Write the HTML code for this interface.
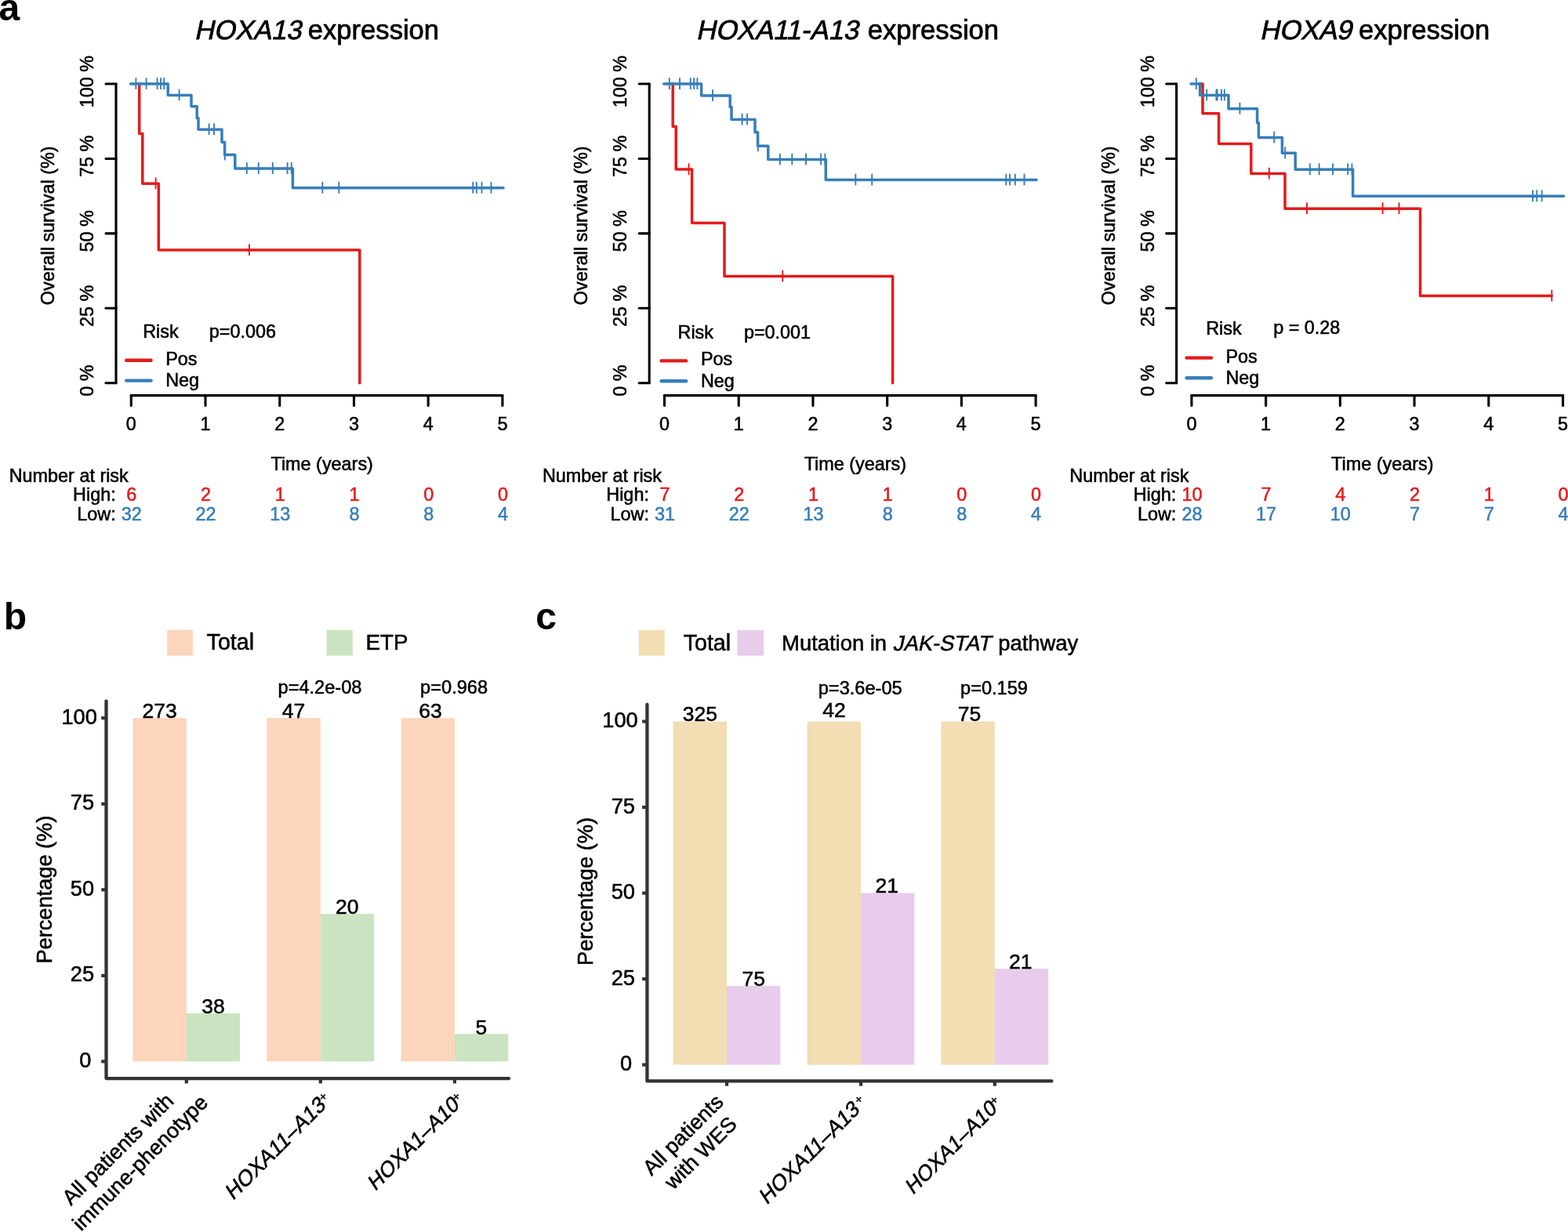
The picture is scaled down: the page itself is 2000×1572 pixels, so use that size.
<!DOCTYPE html>
<html><head><meta charset="utf-8"><title>Figure</title>
<style>
html,body{margin:0;padding:0;background:#fff;}
body{width:2000px;height:1572px;overflow:hidden;}
svg{display:block;}
text{font-family:'Liberation Sans', Arial, Helvetica, sans-serif;stroke:#000;stroke-width:0.55px;}
.ttl{stroke-width:0.75px;}
.bld{stroke-width:0px;}
</style></head>
<body>
<svg width="2000" height="1572" viewBox="0 0 2000 1572">
<rect width="2000" height="1572" fill="#fff"/>
<text class="ttl" transform="translate(247.8 49.6) skewX(-12)" font-size="34.6">HOXA13</text>
<text class="ttl" x="392.85" y="49.6" font-size="34.6">expression</text>
<g stroke="#000" stroke-width="3.1" stroke-linecap="round" fill="none">
<path d="M148 107 V488.7"/>
<path d="M135 488.7 H148"/>
<path d="M135 393.27 H148"/>
<path d="M135 297.85 H148"/>
<path d="M135 202.43 H148"/>
<path d="M135 107 H148"/>
<path d="M167.3 504.6 H640.9"/>
<path d="M167.3 504.6 V517.6"/>
<path d="M262.02 504.6 V517.6"/>
<path d="M356.74 504.6 V517.6"/>
<path d="M451.46 504.6 V517.6"/>
<path d="M546.18 504.6 V517.6"/>
<path d="M640.9 504.6 V517.6"/>
</g>
<text x="167.3" y="549.2" font-size="23.4" text-anchor="middle">0</text>
<text x="262.02" y="549.2" font-size="23.4" text-anchor="middle">1</text>
<text x="356.74" y="549.2" font-size="23.4" text-anchor="middle">2</text>
<text x="451.46" y="549.2" font-size="23.4" text-anchor="middle">3</text>
<text x="546.18" y="549.2" font-size="23.4" text-anchor="middle">4</text>
<text x="640.9" y="549.2" font-size="23.4" text-anchor="middle">5</text>
<text transform="translate(119.2 485.7) rotate(-90)" font-size="23.4" text-anchor="middle">0 %</text>
<text transform="translate(119.2 390.27) rotate(-90)" font-size="23.4" text-anchor="middle">25 %</text>
<text transform="translate(119.2 294.85) rotate(-90)" font-size="23.4" text-anchor="middle">50 %</text>
<text transform="translate(119.2 199.43) rotate(-90)" font-size="23.4" text-anchor="middle">75 %</text>
<text transform="translate(119.2 104) rotate(-90)" font-size="23.4" text-anchor="middle">100 %</text>
<text transform="translate(69.2 287.8) rotate(-90)" font-size="23.4" text-anchor="middle">Overall survival (%)</text>
<g fill="none" stroke-width="3.5" stroke-linejoin="round" stroke-linecap="round">
<path stroke="#E41A1C" d="M176.5 107H177.7V170.4H181.8V234.3H202.3V319.1H458.8V488.7"/>
<path stroke="#E41A1C" stroke-width="1.9" stroke-linecap="butt" d="M198.6 234.3v-7v14M318 319.1v-7v14"/>
<path stroke="#377EB8" d="M166.6 107H214.2V121.4H244V135.8H251.2V150.8H253V165.2H283V181.4H286.6V197.6H299.8V215H373.4V239.7H642"/>
<path stroke="#377EB8" stroke-width="1.9" stroke-linecap="butt" d="M173.4 107v-7v14M186.6 107v-7v14M200.6 107v-7v14M205 107v-7v14M209.2 107v-7v14M228.6 121.4v-7v14M266.6 165.2v-7v14M273 165.2v-7v14M286.8 197.6v-7v14M314.8 215v-7v14M329.8 215v-7v14M347.8 215v-7v14M366.6 215v-7v14M371.8 215v-7v14M411.3 239.7v-7v14M432.3 239.7v-7v14M603.3 239.7v-7v14M607.8 239.7v-7v14M614.5 239.7v-7v14M626.5 239.7v-7v14"/>
</g>
<text x="182.2" y="431" font-size="23.4">Risk</text>
<text x="266.8" y="431" font-size="23.4">p=0.006</text>
<g stroke-width="4.4" stroke-linecap="round">
<path stroke="#E41A1C" d="M161.2 459.8 H192.6"/>
<path stroke="#377EB8" d="M161.2 485.6 H192.6"/>
</g>
<text x="211.2" y="465.6" font-size="23.4">Pos</text>
<text x="211.2" y="493.1" font-size="23.4">Neg</text>
<text x="345.5" y="599.7" font-size="23.4">Time (years)</text>
<text x="11.7" y="614.5" font-size="23.4">Number at risk</text>
<text x="147.7" y="639.2" font-size="23.4" text-anchor="end">High:</text>
<text x="147.7" y="664" font-size="23.4" text-anchor="end">Low:</text>
<text x="167.8" y="639.2" font-size="23.4" text-anchor="middle" style="fill:#E41A1C;stroke:#E41A1C">6</text>
<text x="262.52" y="639.2" font-size="23.4" text-anchor="middle" style="fill:#E41A1C;stroke:#E41A1C">2</text>
<text x="357.24" y="639.2" font-size="23.4" text-anchor="middle" style="fill:#E41A1C;stroke:#E41A1C">1</text>
<text x="451.96" y="639.2" font-size="23.4" text-anchor="middle" style="fill:#E41A1C;stroke:#E41A1C">1</text>
<text x="546.68" y="639.2" font-size="23.4" text-anchor="middle" style="fill:#E41A1C;stroke:#E41A1C">0</text>
<text x="641.4" y="639.2" font-size="23.4" text-anchor="middle" style="fill:#E41A1C;stroke:#E41A1C">0</text>
<text x="167.8" y="664" font-size="23.4" text-anchor="middle" style="fill:#377EB8;stroke:#377EB8">32</text>
<text x="262.52" y="664" font-size="23.4" text-anchor="middle" style="fill:#377EB8;stroke:#377EB8">22</text>
<text x="357.24" y="664" font-size="23.4" text-anchor="middle" style="fill:#377EB8;stroke:#377EB8">13</text>
<text x="451.96" y="664" font-size="23.4" text-anchor="middle" style="fill:#377EB8;stroke:#377EB8">8</text>
<text x="546.68" y="664" font-size="23.4" text-anchor="middle" style="fill:#377EB8;stroke:#377EB8">8</text>
<text x="641.4" y="664" font-size="23.4" text-anchor="middle" style="fill:#377EB8;stroke:#377EB8">4</text>
<text class="ttl" transform="translate(887.7 49.6) skewX(-12)" font-size="34.6">HOXA11-A13</text>
<text class="ttl" x="1106.85" y="49.6" font-size="34.6">expression</text>
<g stroke="#000" stroke-width="3.1" stroke-linecap="round" fill="none">
<path d="M828.2 107 V488.7"/>
<path d="M815.2 488.7 H828.2"/>
<path d="M815.2 393.27 H828.2"/>
<path d="M815.2 297.85 H828.2"/>
<path d="M815.2 202.43 H828.2"/>
<path d="M815.2 107 H828.2"/>
<path d="M847.5 504.6 H1321.1"/>
<path d="M847.5 504.6 V517.6"/>
<path d="M942.22 504.6 V517.6"/>
<path d="M1036.94 504.6 V517.6"/>
<path d="M1131.66 504.6 V517.6"/>
<path d="M1226.38 504.6 V517.6"/>
<path d="M1321.1 504.6 V517.6"/>
</g>
<text x="847.5" y="549.2" font-size="23.4" text-anchor="middle">0</text>
<text x="942.22" y="549.2" font-size="23.4" text-anchor="middle">1</text>
<text x="1036.94" y="549.2" font-size="23.4" text-anchor="middle">2</text>
<text x="1131.66" y="549.2" font-size="23.4" text-anchor="middle">3</text>
<text x="1226.38" y="549.2" font-size="23.4" text-anchor="middle">4</text>
<text x="1321.1" y="549.2" font-size="23.4" text-anchor="middle">5</text>
<text transform="translate(799.4 485.7) rotate(-90)" font-size="23.4" text-anchor="middle">0 %</text>
<text transform="translate(799.4 390.27) rotate(-90)" font-size="23.4" text-anchor="middle">25 %</text>
<text transform="translate(799.4 294.85) rotate(-90)" font-size="23.4" text-anchor="middle">50 %</text>
<text transform="translate(799.4 199.43) rotate(-90)" font-size="23.4" text-anchor="middle">75 %</text>
<text transform="translate(799.4 104) rotate(-90)" font-size="23.4" text-anchor="middle">100 %</text>
<text transform="translate(749.4 287.8) rotate(-90)" font-size="23.4" text-anchor="middle">Overall survival (%)</text>
<g fill="none" stroke-width="3.5" stroke-linejoin="round" stroke-linecap="round">
<path stroke="#E41A1C" d="M857 107H858.2V161.6H862.2V216.1H882.6V284.4H924V352.4H1138.6V488.7"/>
<path stroke="#E41A1C" stroke-width="1.9" stroke-linecap="butt" d="M878.6 216.1v-7v14M998.3 352.4v-7v14"/>
<path stroke="#377EB8" d="M846.6 107H894.6V122H931.2V136.4H933V152.4H963V168.8H966.6V186.2H979.8V203.5H1053.3V229.5H1322"/>
<path stroke="#377EB8" stroke-width="1.9" stroke-linecap="butt" d="M853.8 107v-7v14M867 107v-7v14M880.8 107v-7v14M885.2 107v-7v14M889.4 107v-7v14M909 122v-7v14M946.6 152.4v-7v14M953 152.4v-7v14M966.8 186.2v-7v14M994.9 203.5v-7v14M1010.3 203.5v-7v14M1028 203.5v-7v14M1047.1 203.5v-7v14M1052.4 203.5v-7v14M1091.3 229.5v-7v14M1112.2 229.5v-7v14M1283.3 229.5v-7v14M1288.1 229.5v-7v14M1294.8 229.5v-7v14M1306.5 229.5v-7v14"/>
</g>
<text x="864.5" y="432.2" font-size="23.4">Risk</text>
<text x="948.9" y="431.9" font-size="23.4">p=0.001</text>
<g stroke-width="4.4" stroke-linecap="round">
<path stroke="#E41A1C" d="M843.7 460.4 H875.1"/>
<path stroke="#377EB8" d="M843.7 486.2 H875.1"/>
</g>
<text x="893.9" y="466.2" font-size="23.4">Pos</text>
<text x="893.9" y="493.5" font-size="23.4">Neg</text>
<text x="1025.7" y="599.7" font-size="23.4">Time (years)</text>
<text x="691.9" y="614.5" font-size="23.4">Number at risk</text>
<text x="827.9" y="639.2" font-size="23.4" text-anchor="end">High:</text>
<text x="827.9" y="664" font-size="23.4" text-anchor="end">Low:</text>
<text x="848" y="639.2" font-size="23.4" text-anchor="middle" style="fill:#E41A1C;stroke:#E41A1C">7</text>
<text x="942.72" y="639.2" font-size="23.4" text-anchor="middle" style="fill:#E41A1C;stroke:#E41A1C">2</text>
<text x="1037.44" y="639.2" font-size="23.4" text-anchor="middle" style="fill:#E41A1C;stroke:#E41A1C">1</text>
<text x="1132.16" y="639.2" font-size="23.4" text-anchor="middle" style="fill:#E41A1C;stroke:#E41A1C">1</text>
<text x="1226.88" y="639.2" font-size="23.4" text-anchor="middle" style="fill:#E41A1C;stroke:#E41A1C">0</text>
<text x="1321.6" y="639.2" font-size="23.4" text-anchor="middle" style="fill:#E41A1C;stroke:#E41A1C">0</text>
<text x="848" y="664" font-size="23.4" text-anchor="middle" style="fill:#377EB8;stroke:#377EB8">31</text>
<text x="942.72" y="664" font-size="23.4" text-anchor="middle" style="fill:#377EB8;stroke:#377EB8">22</text>
<text x="1037.44" y="664" font-size="23.4" text-anchor="middle" style="fill:#377EB8;stroke:#377EB8">13</text>
<text x="1132.16" y="664" font-size="23.4" text-anchor="middle" style="fill:#377EB8;stroke:#377EB8">8</text>
<text x="1226.88" y="664" font-size="23.4" text-anchor="middle" style="fill:#377EB8;stroke:#377EB8">8</text>
<text x="1321.6" y="664" font-size="23.4" text-anchor="middle" style="fill:#377EB8;stroke:#377EB8">4</text>
<text class="ttl" transform="translate(1606.8 49.6) skewX(-12)" font-size="34.6">HOXA9</text>
<text class="ttl" x="1733" y="49.6" font-size="34.6">expression</text>
<g stroke="#000" stroke-width="3.1" stroke-linecap="round" fill="none">
<path d="M1500.6 107 V488.7"/>
<path d="M1487.6 488.7 H1500.6"/>
<path d="M1487.6 393.27 H1500.6"/>
<path d="M1487.6 297.85 H1500.6"/>
<path d="M1487.6 202.43 H1500.6"/>
<path d="M1487.6 107 H1500.6"/>
<path d="M1519.9 504.6 H1993.5"/>
<path d="M1519.9 504.6 V517.6"/>
<path d="M1614.62 504.6 V517.6"/>
<path d="M1709.34 504.6 V517.6"/>
<path d="M1804.06 504.6 V517.6"/>
<path d="M1898.78 504.6 V517.6"/>
<path d="M1993.5 504.6 V517.6"/>
</g>
<text x="1519.9" y="549.2" font-size="23.4" text-anchor="middle">0</text>
<text x="1614.62" y="549.2" font-size="23.4" text-anchor="middle">1</text>
<text x="1709.34" y="549.2" font-size="23.4" text-anchor="middle">2</text>
<text x="1804.06" y="549.2" font-size="23.4" text-anchor="middle">3</text>
<text x="1898.78" y="549.2" font-size="23.4" text-anchor="middle">4</text>
<text x="1993.5" y="549.2" font-size="23.4" text-anchor="middle">5</text>
<text transform="translate(1471.8 485.7) rotate(-90)" font-size="23.4" text-anchor="middle">0 %</text>
<text transform="translate(1471.8 390.27) rotate(-90)" font-size="23.4" text-anchor="middle">25 %</text>
<text transform="translate(1471.8 294.85) rotate(-90)" font-size="23.4" text-anchor="middle">50 %</text>
<text transform="translate(1471.8 199.43) rotate(-90)" font-size="23.4" text-anchor="middle">75 %</text>
<text transform="translate(1471.8 104) rotate(-90)" font-size="23.4" text-anchor="middle">100 %</text>
<text transform="translate(1421.8 287.8) rotate(-90)" font-size="23.4" text-anchor="middle">Overall survival (%)</text>
<g fill="none" stroke-width="3.5" stroke-linejoin="round" stroke-linecap="round">
<path stroke="#E41A1C" d="M1529.5 107H1534V144.8H1554.6V183.6H1595.8V221.6H1639V266.3H1811.5V377.6H1979.3"/>
<path stroke="#E41A1C" stroke-width="1.9" stroke-linecap="butt" d="M1618.8 221.6v-7v14M1667 266.3v-7v14M1763.6 266.3v-7v14M1784.5 266.3v-7v14M1979.3 377.6v-7v14"/>
<path stroke="#377EB8" d="M1519 107H1530.6V121.4H1567V138.8H1603.6V156.8H1605.4V175.4H1635.4V195.2H1652.2V216.2H1725.6V250.2H1994.5"/>
<path stroke="#377EB8" stroke-width="1.9" stroke-linecap="butt" d="M1525.8 107v-7v14M1539.2 121.4v-7v14M1551.4 121.4v-7v14M1552.6 121.4v-7v14M1558 121.4v-7v14M1561.8 121.4v-7v14M1581.4 138.8v-7v14M1625.2 175.4v-7v14M1639.2 195.2v-7v14M1670.8 216.2v-7v14M1682.6 216.2v-7v14M1700 216.2v-7v14M1719.2 216.2v-7v14M1724.4 216.2v-7v14M1955 250.2v-7v14M1960.2 250.2v-7v14M1966.7 250.2v-7v14"/>
</g>
<text x="1538.2" y="427.2" font-size="23.4">Risk</text>
<text x="1624.2" y="425.6" font-size="23.4">p = 0.28</text>
<g stroke-width="4.4" stroke-linecap="round">
<path stroke="#E41A1C" d="M1513.5 456.6 H1545"/>
<path stroke="#377EB8" d="M1513.5 482.3 H1545"/>
</g>
<text x="1563.4" y="462.8" font-size="23.4">Pos</text>
<text x="1563.4" y="490" font-size="23.4">Neg</text>
<text x="1698.1" y="599.7" font-size="23.4">Time (years)</text>
<text x="1364.3" y="614.5" font-size="23.4">Number at risk</text>
<text x="1500.3" y="639.2" font-size="23.4" text-anchor="end">High:</text>
<text x="1500.3" y="664" font-size="23.4" text-anchor="end">Low:</text>
<text x="1520.4" y="639.2" font-size="23.4" text-anchor="middle" style="fill:#E41A1C;stroke:#E41A1C">10</text>
<text x="1615.12" y="639.2" font-size="23.4" text-anchor="middle" style="fill:#E41A1C;stroke:#E41A1C">7</text>
<text x="1709.84" y="639.2" font-size="23.4" text-anchor="middle" style="fill:#E41A1C;stroke:#E41A1C">4</text>
<text x="1804.56" y="639.2" font-size="23.4" text-anchor="middle" style="fill:#E41A1C;stroke:#E41A1C">2</text>
<text x="1899.28" y="639.2" font-size="23.4" text-anchor="middle" style="fill:#E41A1C;stroke:#E41A1C">1</text>
<text x="1994" y="639.2" font-size="23.4" text-anchor="middle" style="fill:#E41A1C;stroke:#E41A1C">0</text>
<text x="1520.4" y="664" font-size="23.4" text-anchor="middle" style="fill:#377EB8;stroke:#377EB8">28</text>
<text x="1615.12" y="664" font-size="23.4" text-anchor="middle" style="fill:#377EB8;stroke:#377EB8">17</text>
<text x="1709.84" y="664" font-size="23.4" text-anchor="middle" style="fill:#377EB8;stroke:#377EB8">10</text>
<text x="1804.56" y="664" font-size="23.4" text-anchor="middle" style="fill:#377EB8;stroke:#377EB8">7</text>
<text x="1899.28" y="664" font-size="23.4" text-anchor="middle" style="fill:#377EB8;stroke:#377EB8">7</text>
<text x="1994" y="664" font-size="23.4" text-anchor="middle" style="fill:#377EB8;stroke:#377EB8">4</text>
<text x="-1.5" y="26" font-size="48" font-weight="bold" class="bld">a</text>
<text x="4.7" y="803" font-size="48" font-weight="bold" class="bld">b</text>
<text x="683.2" y="803" font-size="48" font-weight="bold" class="bld">c</text>
<rect x="169.4" y="916.2" width="68.4" height="438.2" fill="#FDD4BC"/>
<rect x="237.8" y="1293" width="68.4" height="61.4" fill="#CAE4C1"/>
<rect x="340.4" y="916.2" width="68.4" height="438.2" fill="#FDD4BC"/>
<rect x="408.8" y="1166.1" width="68.4" height="188.3" fill="#CAE4C1"/>
<rect x="511.5" y="916.2" width="68.4" height="438.2" fill="#FDD4BC"/>
<rect x="579.9" y="1319.2" width="68.4" height="35.2" fill="#CAE4C1"/>
<text x="203.7" y="916" font-size="26.5" text-anchor="middle">273</text>
<text x="272.1" y="1293" font-size="26.5" text-anchor="middle">38</text>
<text x="374.5" y="916" font-size="26.5" text-anchor="middle">47</text>
<text x="442.8" y="1166" font-size="26.5" text-anchor="middle">20</text>
<text x="549" y="916.2" font-size="26.5" text-anchor="middle">63</text>
<text x="613.8" y="1319.6" font-size="26.5" text-anchor="middle">5</text>
<text x="408" y="884.6" font-size="23.6" text-anchor="middle">p=4.2e-08</text>
<text x="579.1" y="884.6" font-size="23.6" text-anchor="middle">p=0.968</text>
<g stroke="#333333" stroke-width="4.3" stroke-linecap="round" stroke-linejoin="round" fill="none">
<path d="M135.5 894.6 V1376.1 H649"/>
</g>
<g stroke="#333333" stroke-width="4.2" fill="none">
<path d="M129.2 1354.4 H135.5"/>
<path d="M129.2 1244.85 H135.5"/>
<path d="M129.2 1135.3 H135.5"/>
<path d="M129.2 1025.75 H135.5"/>
<path d="M129.2 916.2 H135.5"/>
<path d="M237.8 1376.1 V1382.4"/>
<path d="M408.8 1376.1 V1382.4"/>
<path d="M579.9 1376.1 V1382.4"/>
</g>
<text x="116.28" y="1362" font-size="27.2" text-anchor="end">0</text>
<text x="120.06" y="1252.45" font-size="27.2" text-anchor="end">25</text>
<text x="120.06" y="1142.9" font-size="27.2" text-anchor="end">50</text>
<text x="120.06" y="1033.35" font-size="27.2" text-anchor="end">75</text>
<text x="123.84" y="923.8" font-size="27.2" text-anchor="end">100</text>
<text transform="translate(66.4 1135.1) rotate(-90)" font-size="27.2" text-anchor="middle">Percentage (%)</text>
<rect x="858.6" y="920.6" width="68.4" height="438" fill="#F2DEB2"/>
<rect x="927" y="1257.9" width="68.4" height="100.7" fill="#E8CCEC"/>
<rect x="1029.6" y="920.6" width="68.4" height="438" fill="#F2DEB2"/>
<rect x="1098" y="1139.5" width="68.4" height="219.1" fill="#E8CCEC"/>
<rect x="1200.4" y="920.6" width="68.4" height="438" fill="#F2DEB2"/>
<rect x="1268.8" y="1236" width="68.4" height="122.6" fill="#E8CCEC"/>
<text x="892.8" y="920.3" font-size="26.5" text-anchor="middle">325</text>
<text x="961.2" y="1257.7" font-size="26.5" text-anchor="middle">75</text>
<text x="1063.9" y="914.7" font-size="26.5" text-anchor="middle">42</text>
<text x="1131.3" y="1139.3" font-size="26.5" text-anchor="middle">21</text>
<text x="1236.4" y="920.3" font-size="26.5" text-anchor="middle">75</text>
<text x="1301.8" y="1235.8" font-size="26.5" text-anchor="middle">21</text>
<text x="1097.2" y="886" font-size="23.6" text-anchor="middle">p=3.6e-05</text>
<text x="1268" y="886" font-size="23.6" text-anchor="middle">p=0.159</text>
<g stroke="#333333" stroke-width="4.3" stroke-linecap="round" stroke-linejoin="round" fill="none">
<path d="M825.4 898.8 V1379.4 H1341.4"/>
</g>
<g stroke="#333333" stroke-width="4.2" fill="none">
<path d="M819.1 1358.6 H825.4"/>
<path d="M819.1 1249.1 H825.4"/>
<path d="M819.1 1139.6 H825.4"/>
<path d="M819.1 1030.1 H825.4"/>
<path d="M819.1 920.6 H825.4"/>
<path d="M927 1379.4 V1385.7"/>
<path d="M1098 1379.4 V1385.7"/>
<path d="M1268.8 1379.4 V1385.7"/>
</g>
<text x="806.18" y="1366.2" font-size="27.2" text-anchor="end">0</text>
<text x="809.96" y="1256.7" font-size="27.2" text-anchor="end">25</text>
<text x="809.96" y="1147.2" font-size="27.2" text-anchor="end">50</text>
<text x="809.96" y="1037.7" font-size="27.2" text-anchor="end">75</text>
<text x="813.74" y="928.2" font-size="27.2" text-anchor="end">100</text>
<text transform="translate(755.9 1137.5) rotate(-90)" font-size="27.2" text-anchor="middle">Percentage (%)</text>
<rect x="213.3" y="803.9" width="32.6" height="32.7" fill="#FDD4BC"/>
<rect x="416.6" y="803.9" width="33.2" height="32.7" fill="#CAE4C1"/>
<text x="263.6" y="828.6" font-size="28.6">Total</text>
<text x="466.6" y="828.6" font-size="27.7">ETP</text>
<rect x="814.7" y="803.9" width="33.1" height="32.7" fill="#F2DEB2"/>
<rect x="940.4" y="803.9" width="33.6" height="32.7" fill="#E8CCEC"/>
<text x="871.7" y="829.8" font-size="28.6">Total</text>
<text x="997.1" y="829.8" font-size="27.4">Mutation in</text>
<text transform="translate(1138.5 829.8) skewX(-12)" font-size="27.4">JAK-STAT</text>
<text x="1273.2" y="829.8" font-size="27.4">pathway</text>
<text transform="translate(90.51 1539.09) rotate(-45)" font-size="27">All patients with</text>
<text transform="translate(266.86 1408.27) rotate(-45)" font-size="27" text-anchor="end">immune-phenotype</text>
<text transform="translate(297.06 1532.23) rotate(-45) skewX(-12)" font-size="27.3">HOXA11–A13</text>
<text transform="translate(297.06 1532.23) rotate(-45)" x="170.76" y="-7.6" font-size="15">+</text>
<text transform="translate(478.57 1520.42) rotate(-45) skewX(-12)" font-size="26.8">HOXA1–A10</text>
<text transform="translate(478.57 1520.42) rotate(-45)" x="154.23" y="-7.6" font-size="15">+</text>
<text transform="translate(830.92 1501.12) rotate(-45)" font-size="27">All patients</text>
<text transform="translate(941.58 1436.13) rotate(-45)" font-size="27" text-anchor="end">with WES</text>
<text transform="translate(978 1537.89) rotate(-45) skewX(-12)" font-size="27.3">HOXA11–A13</text>
<text transform="translate(978 1537.89) rotate(-45)" x="173.96" y="-7.6" font-size="15">+</text>
<text transform="translate(1164.25 1525.3) rotate(-45) skewX(-12)" font-size="26.8">HOXA1–A10</text>
<text transform="translate(1164.25 1525.3) rotate(-45)" x="154.73" y="-7.6" font-size="15">+</text>
</svg>
</body></html>
